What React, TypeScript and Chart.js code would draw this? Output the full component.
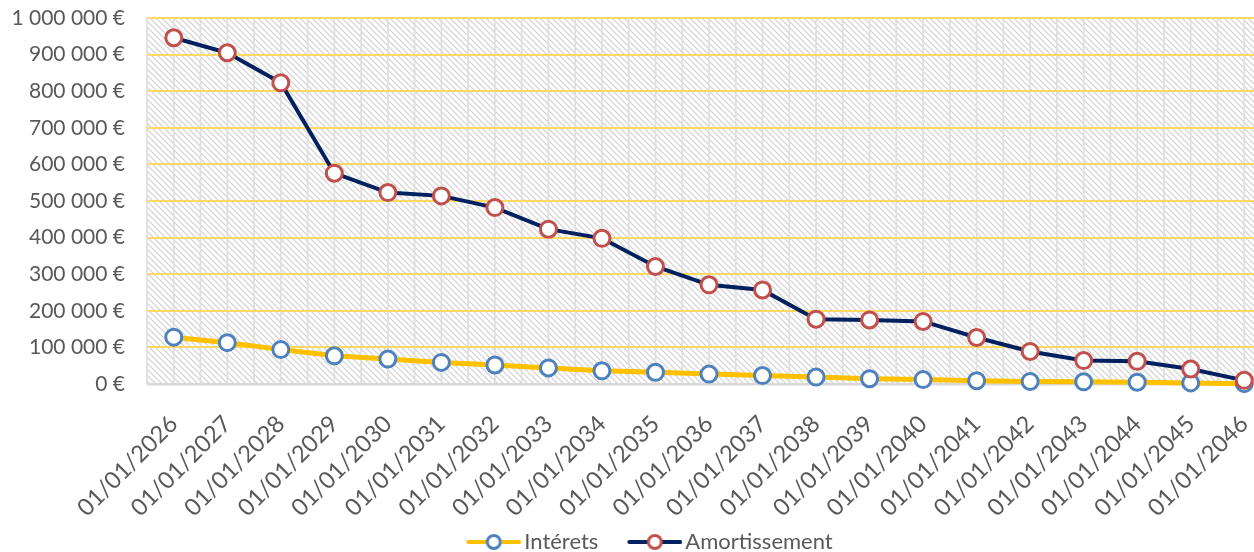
import React, { useEffect, useRef } from 'react';
import { Chart, registerables } from 'chart.js';

Chart.register(...registerables);

const categories = [
  '01/01/2026', '01/01/2027', '01/01/2028', '01/01/2029', '01/01/2030', '01/01/2031', '01/01/2032',
  '01/01/2033', '01/01/2034', '01/01/2035', '01/01/2036', '01/01/2037', '01/01/2038', '01/01/2039',
  '01/01/2040', '01/01/2041', '01/01/2042', '01/01/2043', '01/01/2044', '01/01/2045', '01/01/2046',
];

const interets = [
  128000, 113000, 94000, 77000, 68000, 59000, 52000, 44000, 36000, 32000, 27000,
  23000, 19000, 14500, 12000, 9000, 7000, 6000, 5000, 3000, 1000,
];

const amortissement = [
  946000, 905000, 823000, 576000, 523000, 514000, 482000, 423000, 398000, 321000, 271000,
  257000, 177000, 175000, 171000, 127000, 89000, 64000, 62000, 41000, 10000,
];

const seriesNames = ['Intérets', 'Amortissement'];
const yMin = 0;
const yMax = 1000000;
const yStep = 100000;

const FONT = 'Lato';
const TEXT = '#595959';
const LEGEND_BOX = 76;
const SHIFT = 12;

function formatEuro(v: number): string {
  return String(Math.round(v)).replace(/\B(?=(\d{3})+(?!\d))/g, ' ') + ' €';
}

function makeLegendImage(lineColor: string, pointColor: string): HTMLCanvasElement {
  const w = LEGEND_BOX + 16;
  const h = 22;
  const c = document.createElement('canvas');
  c.width = w;
  c.height = h;
  const g = c.getContext('2d')!;
  const start = w - 55;
  g.strokeStyle = lineColor;
  g.lineWidth = 4;
  g.lineCap = 'round';
  g.beginPath();
  g.moveTo(start + 2, h / 2);
  g.lineTo(w - 2, h / 2);
  g.stroke();
  g.beginPath();
  g.arc(start + 27.5, h / 2, 6.5, 0, Math.PI * 2);
  g.fillStyle = '#ffffff';
  g.fill();
  g.lineWidth = 3;
  g.strokeStyle = pointColor;
  g.stroke();
  return c;
}

const plotBackground = {
  id: 'plotBackground',
  beforeDraw(chart: any) {
    const { ctx, chartArea: a, scales } = chart;
    const x = scales.x;
    ctx.save();
    ctx.fillStyle = '#ffffff';
    ctx.fillRect(a.left, a.top, a.right - a.left, a.bottom - a.top);
    const tile = document.createElement('canvas');
    const s = 6;
    tile.width = s;
    tile.height = s;
    const t = tile.getContext('2d')!;
    t.strokeStyle = '#d6d6d6';
    t.lineWidth = 1.3;
    t.beginPath();
    t.moveTo(-1, -1);
    t.lineTo(s + 1, s + 1);
    t.moveTo(-1, s - 1);
    t.lineTo(1, s + 1);
    t.moveTo(s - 1, -1);
    t.lineTo(s + 1, 1);
    t.stroke();
    const pattern = ctx.createPattern(tile, 'repeat');
    if (pattern) {
      ctx.fillStyle = pattern;
      ctx.fillRect(a.left, a.top, a.right - a.left, a.bottom - a.top);
    }
    ctx.strokeStyle = '#e0e0e0';
    ctx.lineWidth = 1.8;
    const n = categories.length;
    const half = (x.getPixelForValue(1) - x.getPixelForValue(0)) / 2;
    ctx.beginPath();
    for (let i = 0; i < n; i++) {
      const cx = x.getPixelForValue(i);
      for (const px of [cx - half, cx, cx + half]) {
        ctx.moveTo(px, a.top);
        ctx.lineTo(px, a.bottom);
      }
    }
    ctx.stroke();
    ctx.restore();
  },
};

export default function App() {
  const ref = useRef<HTMLCanvasElement | null>(null);

  useEffect(() => {
    if (!ref.current) return;
    Chart.defaults.font.family = FONT;
    const legendImages = [
      makeLegendImage('#FFC000', '#4F81BD'),
      makeLegendImage('#002060', '#C0504D'),
    ];
    const chart = new Chart(ref.current, {
      type: 'line',
      data: {
        labels: categories,
        datasets: [
          {
            label: seriesNames[0],
            data: interets,
            borderColor: '#FFC000',
            borderWidth: 5,
            pointRadius: 8,
            pointBorderWidth: 3,
            pointBackgroundColor: '#ffffff',
            pointBorderColor: '#4F81BD',
            tension: 0,
            clip: false as any,
            order: 1,
          },
          {
            label: seriesNames[1],
            data: amortissement,
            borderColor: '#002060',
            borderWidth: 4,
            pointRadius: 8,
            pointBorderWidth: 3,
            pointBackgroundColor: '#ffffff',
            pointBorderColor: '#C0504D',
            tension: 0,
            clip: false as any,
            order: 0,
          },
        ],
      },
      options: {
        animation: false,
        responsive: false,
        maintainAspectRatio: false,
        devicePixelRatio: 1,
        layout: { padding: { top: 18, right: 0, bottom: 0, left: 0 } },
        scales: {
          x: {
            offset: true,
            grid: {
              display: true,
              drawOnChartArea: false,
              drawTicks: true,
              tickLength: 26,
              color: 'rgba(0,0,0,0)',
              tickColor: 'rgba(0,0,0,0)',
            },
            border: { display: false },
            ticks: {
              autoSkip: false,
              minRotation: 45,
              maxRotation: 45,
              color: TEXT,
              font: { family: FONT, size: 23.5 },
              padding: 0,
            },
            afterFit(scale: any) {
              scale.height = 147;
            },
          },
          y: {
            min: yMin,
            max: yMax,
            grid: {
              color: (c: any) => (c.tick && c.tick.value === 0 ? '#D9D9D9' : '#FFD966'),
              lineWidth: (c: any) => (c.tick && c.tick.value === 0 ? 2.5 : 2),
              drawTicks: true,
              tickLength: 22,
              tickColor: 'rgba(0,0,0,0)',
            },
            border: { display: false },
            ticks: {
              stepSize: yStep,
              color: TEXT,
              font: { family: FONT, size: 21 },
              padding: 0,
              callback: (v: any) => formatEuro(Number(v)),
            },
            afterFit(scale: any) {
              scale.width = 147 + SHIFT;
            },
          },
        },
        plugins: {
          tooltip: { enabled: false },
          legend: {
            position: 'bottom',
            labels: {
              usePointStyle: true,
              pointStyleWidth: LEGEND_BOX,
              boxHeight: 22,
              padding: 0,
              color: TEXT,
              font: { family: FONT, size: 22 },
              sort: (a: any, b: any) => a.datasetIndex - b.datasetIndex,
              generateLabels: (ch: any) => {
                const items = Chart.defaults.plugins.legend.labels.generateLabels(ch);
                return items.map((it: any) => ({ ...it, pointStyle: legendImages[it.datasetIndex] }));
              },
            },
          },
        },
      },
      plugins: [plotBackground],
    });
    return () => chart.destroy();
  }, []);

  return (
    <div style={{ position: 'absolute', left: 0, top: 0, width: 1254, height: 552, overflow: 'hidden', background: '#fff' }}>
      <canvas
        ref={ref}
        width={1270 + 2 * SHIFT}
        height={563}
        style={{ display: 'block', position: 'absolute', left: -SHIFT, top: 0 }}
      />
    </div>
  );
}
